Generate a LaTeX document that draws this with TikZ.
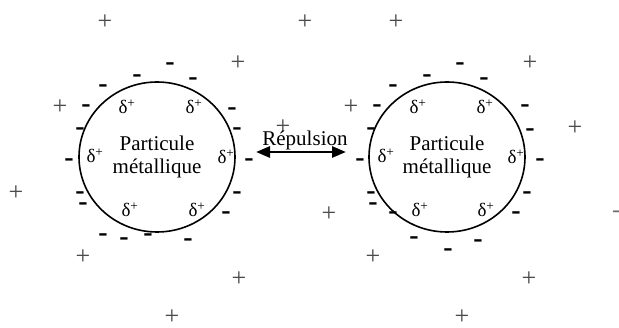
\documentclass[tikz,border=0pt]{standalone}
\usepackage{fontspec}
\setmainfont{Liberation Serif}
\usetikzlibrary{
  arrows.meta,
  shapes.geometric
}
\definecolor{ionGray}{RGB}{75,75,75}
\definecolor{farGray}{RGB}{110,110,110}
\tikzset{
  particleNode/.style={
    ellipse,
    draw=black,
    line width=1.6pt,
    minimum width=156pt,
    minimum height=150pt,
    inner sep=0pt,
    align=center,
    font=\fontsize{21}{23}\selectfont
  },
  deltaPlus/.style={
    anchor=base,
    inner sep=0pt,
    font=\fontsize{19}{19}\selectfont
  },
  ionPlus/.style={
    text=ionGray,
    inner sep=0pt,
    font=\fontsize{26}{26}\selectfont
  },
  ionMinus/.style={
    inner sep=0pt,
    font=\fontsize{28}{28}\bfseries\selectfont
  },
  repArrow/.style={
    {Triangle[length=14pt,width=11pt]}-{Triangle[length=14pt,width=11pt]},
    line width=2.8pt
  },
  repText/.style={
    anchor=base,
    inner sep=0pt,
    font=\fontsize{21}{21}\selectfont
  }
}

\begin{document}
\begin{tikzpicture}[x=1pt,y=-1pt]
  \useasboundingbox (0,0) rectangle (619,328);

  % the two particles
  \node[particleNode] (leftpart) at (157,157) {Particule\\métallique};
  \node[particleNode] (rightpart) at (447,157) {Particule\\métallique};

  % surface charges
  \foreach \x/\y [count=\i] in {127/114, 194/114, 95/163, 226/164, 130/217, 197/217,
      418/114, 485/114, 386/163, 516/164, 420/217, 486/217}
    \node[deltaPlus] (delta\i) at (\x,\y) {δ\textsuperscript{+}};

  % negative ions
  \foreach \x/\y [count=\i] in {170/67, 137/79, 193/82, 103/89, 86/109, 232/112,
      80/132, 237/132, 69/163, 249/163, 80/196, 83/207, 237/196, 226/216,
      103/238, 124/242, 148/238, 188/243,
      460/67, 427/79, 484/82, 393/89, 377/109, 525/109, 371/132, 530/133,
      360/163, 540/163, 371/196, 373/207, 393/216, 527/196, 516/216,
      414/241, 448/253, 478/244}
    \node[ionMinus] (neg\i) at (\x,\y) {-};
  \node[ionMinus, font=\fontsize{24}{24}\selectfont, text=farGray] (negfar) at (616,214) {-};

  % positive ions
  \foreach \x/\y [count=\i] in {105/22, 305/22, 396/22, 238/63, 530/63, 60/107,
      351/107, 283/127, 575/128, 16/193, 329/214, 83/257, 373/257, 239/279,
      529/279, 172/317, 462/317}
    \node[ionPlus] (pos\i) at (\x,\y) {+};

  % repulsion
  \coordinate (arrowL) at (256,152);
  \coordinate (arrowR) at (346,152);
  \draw[repArrow] (arrowL) -- (arrowR);
  \node[repText] (replabel) at (305,146) {Répulsion};
\end{tikzpicture}
\end{document}
